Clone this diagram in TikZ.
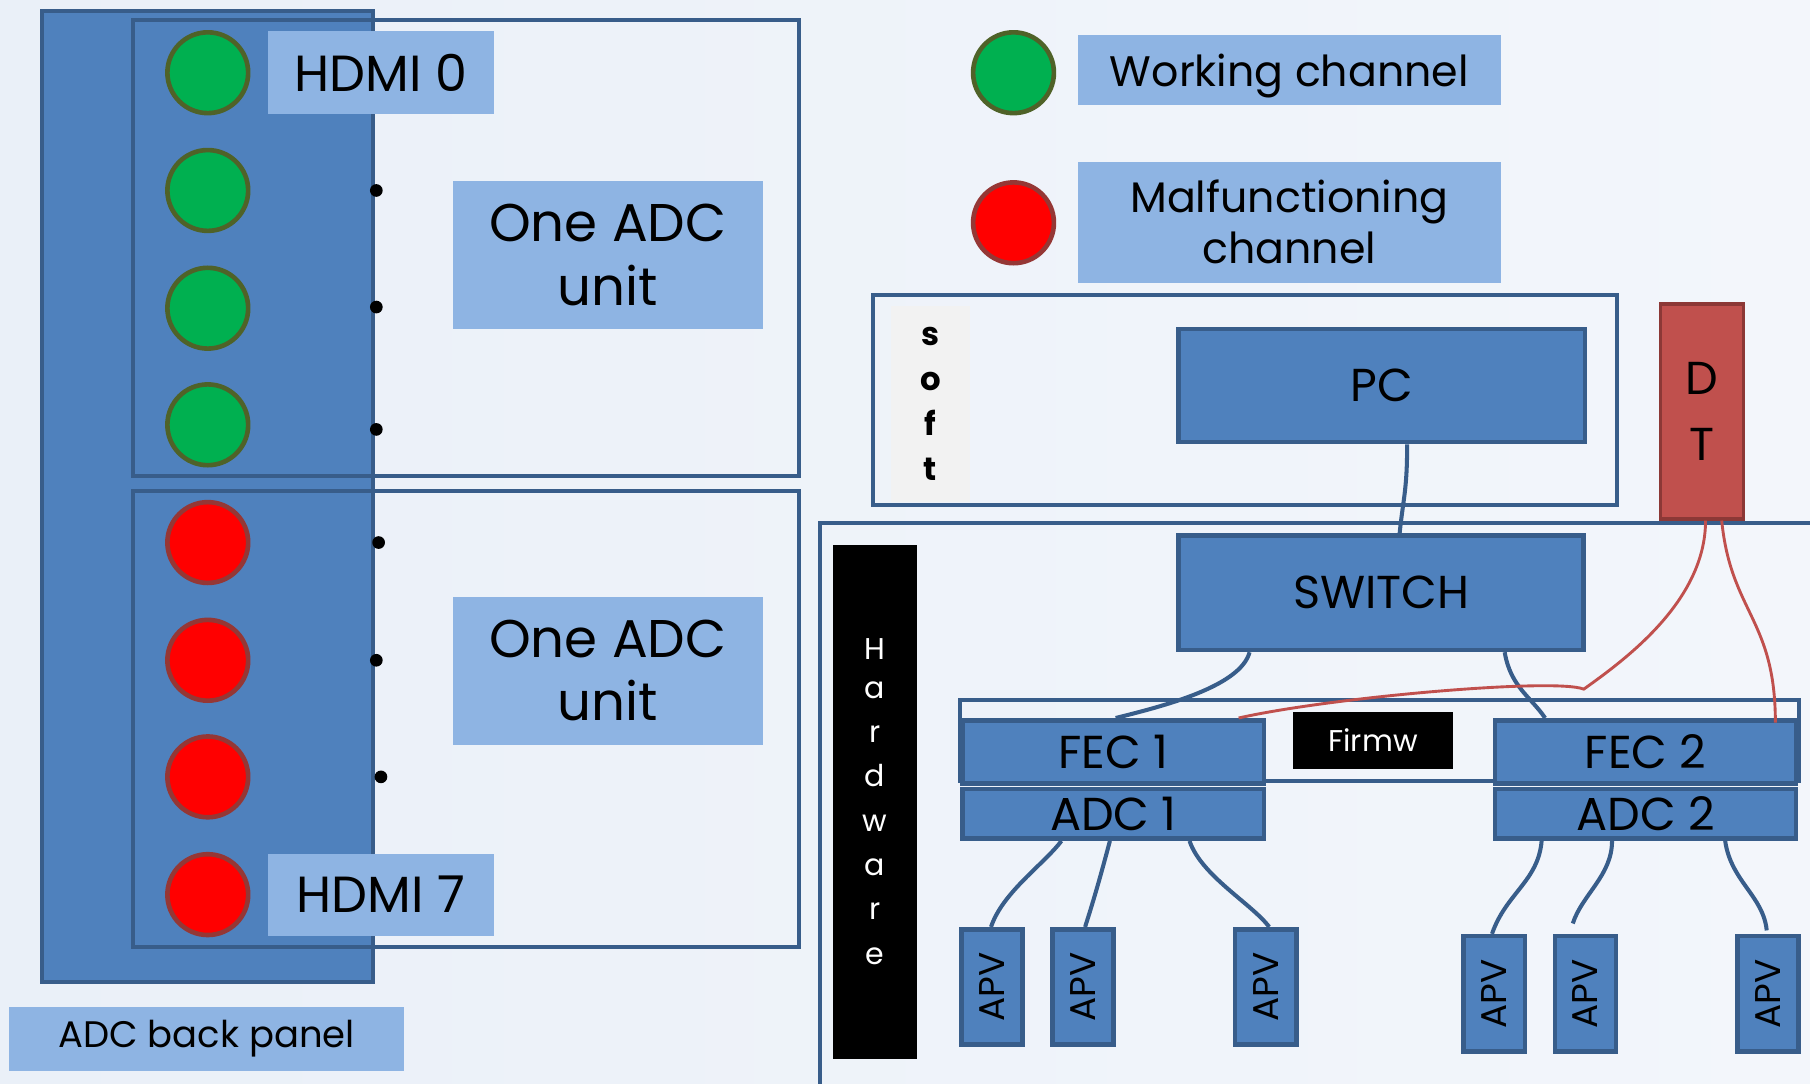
\documentclass[tikz,border=0pt]{standalone}
\usepackage{fontspec}
\setmainfont{Poppins}
\definecolor{bgcol}{HTML}{EAF0F8}
\definecolor{bgcolb}{HTML}{F3F6FB}
\definecolor{bluefill}{HTML}{4F81BD}
\definecolor{blueline}{HTML}{385D8A}
\definecolor{lightblue}{HTML}{8EB4E3}
\definecolor{okgreen}{HTML}{00B050}
\definecolor{okline}{HTML}{4F6228}
\definecolor{badred}{HTML}{FF0000}
\definecolor{badline}{HTML}{953735}
\definecolor{dtfill}{HTML}{C0504D}
\definecolor{dtline}{HTML}{8C3836}
\definecolor{softgray}{HTML}{F2F2F2}

\tikzset{
  panel/.style={draw=blueline, line width=3.5pt, fill=bluefill, inner sep=0pt},
  blk/.style={draw=blueline, line width=4pt, fill=bluefill, inner sep=0pt, font=\fontsize{40}{44}\selectfont},
  frame/.style={draw=blueline, line width=3.5pt, inner sep=0pt},
  lbl/.style={fill=lightblue, inner sep=0pt, align=center},
  okch/.style={circle, draw=okline, line width=4pt, fill=okgreen, minimum size=70pt},
  badch/.style={circle, draw=badline, line width=4pt, fill=badred, minimum size=70pt},
  dot/.style={circle, fill=black, inner sep=0pt, minimum size=11pt},
  apv/.style={blk, minimum width=53pt, minimum height=100pt, font=\fontsize{31}{32}\selectfont},
  wire/.style={draw=blueline, line width=3.5pt},
  dtwire/.style={draw=dtfill, line width=2.5pt}
}

\begin{document}
\begin{tikzpicture}[x=1pt, y=-1pt]
    \useasboundingbox (0,0) rectangle (1568,939);
    \shade[left color=bgcol, right color=bgcolb] (0,0) rectangle (1568,939);

    % back panel with the two ADC units
    \node[panel, minimum width=287pt, minimum height=841pt] (panel) at (180,430) {};
    \node[frame, minimum width=577pt, minimum height=395pt] (unitA) at (404,215) {};
    \node[frame, minimum width=577pt, minimum height=395pt] (unitB) at (404,623) {};

    \foreach \y [count=\i from 0] in {63,165,267,368} {
        \node[okch] (ch\i) at (180,\y) {};
    }
    \foreach \y [count=\i from 4] in {470,572,673,775} {
        \node[badch] (ch\i) at (180,\y) {};
    }

    \node[lbl, minimum width=196pt, minimum height=72pt, font=\fontsize{44}{48}\selectfont] (hdmiA) at (330,63) {HDMI 0};
    \node[lbl, minimum width=196pt, minimum height=71pt, font=\fontsize{44}{48}\selectfont] (hdmiB) at (330,775) {HDMI 7};

    \node[dot] (d1) at (326,165) {};
    \node[dot] (d2) at (326,266) {};
    \node[dot] (d3) at (326,372) {};
    \node[dot] (d4) at (328,470) {};
    \node[dot] (d5) at (326,572) {};
    \node[dot] (d6) at (330,673) {};

    \node[lbl, minimum width=269pt, minimum height=128pt, font=\fontsize{46}{55}\selectfont] (oneA) at (526.5,221) {One ADC\\unit};
    \node[lbl, minimum width=269pt, minimum height=128pt, font=\fontsize{46}{55}\selectfont] (oneB) at (526.5,581) {One ADC\\unit};
    \node[lbl, minimum width=342pt, minimum height=56pt, font=\fontsize{32}{36}\selectfont] (back) at (179,900) {ADC back panel};

    % legend
    \node[okch] (legok) at (878,63) {};
    \node[lbl, minimum width=366pt, minimum height=61pt, text depth=0pt, font=\fontsize{37}{42}\selectfont] (legA) at (1117,60.5) {Working channel};
    \node[badch] (legbad) at (878,193) {};
    \node[lbl, minimum width=366pt, minimum height=105pt, font=\fontsize{37}{44}\selectfont] (legB) at (1117,192.5) {Malfunctioning\\channel};

    % software
    \node[frame, minimum width=644pt, minimum height=182pt] (soft) at (1078.5,346.5) {};
    \node[fill=softgray, minimum width=68pt, minimum height=170pt, align=center,
          font=\fontsize{28}{39}\selectfont\bfseries] (softtxt) at (806,350) {s\\o\\f\\t};
    \node[blk, minimum width=352pt, minimum height=98pt] (pc) at (1197,334) {PC};
    \node[draw=dtline, line width=3pt, fill=dtfill, minimum width=72pt, minimum height=186pt,
          align=center, font=\fontsize{40}{57}\selectfont] (dt) at (1474.5,356.5) {D\\T};

    % hardware
    \draw[frame] (710,960) -- (710,453) -- (1600,453);
    \node[fill=black, text=white, minimum width=72pt, minimum height=445pt, align=center,
          font=\fontsize{26}{38.4}\selectfont] (hw) at (758,694.5) {\raisebox{-5pt}{H}\\a\\r\\d\\w\\a\\r\\e};
    \node[blk, minimum width=351pt, minimum height=99pt] (sw) at (1196.5,513.5) {SWITCH};

    \node[frame, minimum width=727pt, minimum height=70pt] (firm) at (1195,641.5) {};
    \node[blk, minimum width=261pt, minimum height=55pt] (fecA) at (964.5,651.5) {FEC 1};
    \node[blk, minimum width=261pt, minimum height=43pt] (adcA) at (964.5,705) {ADC 1};
    \node[blk, minimum width=261pt, minimum height=55pt] (fecB) at (1425.5,651.5) {FEC 2};
    \node[blk, minimum width=261pt, minimum height=43pt] (adcB) at (1425.5,705) {ADC 2};
    \node[fill=black, text=white, minimum width=139pt, minimum height=49pt,
          font=\fontsize{26}{28}\selectfont] (firmw) at (1189.5,641.5) {Firmw};

    \node[apv] (apv1) at (859.5,855) {\rotatebox{90}{APV}};
    \node[apv] (apv2) at (938,855) {\rotatebox{90}{APV}};
    \node[apv] (apv3) at (1096.5,855) {\rotatebox{90}{APV}};
    \node[apv] (apv4) at (1294.5,861) {\rotatebox{90}{APV}};
    \node[apv] (apv5) at (1373.5,861) {\rotatebox{90}{APV}};
    \node[apv] (apv6) at (1531.5,861) {\rotatebox{90}{APV}};

    % cables
    \draw[wire] ([xshift=22pt]pc.south) .. controls +(0,40) and +(3,-30) .. ([xshift=16pt]sw.north);
    \draw[wire] ([xshift=-114pt]sw.south) .. controls +(-8,30) and +(40,-10) .. ([xshift=2pt]fecA.north);
    \draw[wire] ([xshift=107pt]sw.south) .. controls +(5,30) and +(-12,-18) .. ([xshift=-87pt]fecB.north);

    \draw[wire] ([xshift=-45pt]adcA.south) .. controls +(-15,20) and +(10,-30) .. ([xshift=-1pt]apv1.north);
    \draw[wire] ([xshift=-3pt]adcA.south) .. controls +(-8,30) and +(8,-25) .. ([xshift=2pt]apv2.north);
    \draw[wire] ([xshift=66pt]adcA.south) .. controls +(10,30) and +(-15,-20) .. ([xshift=3pt]apv3.north);

    \draw[wire] ([xshift=-90pt]adcB.south) .. controls +(-3,35) and +(12,-35) .. ([xshift=-2pt]apv4.north);
    \draw[wire] ([xshift=-29pt]adcB.south) .. controls +(0,30) and +(8,-25) .. ([xshift=-11pt,yshift=9pt]apv5.north);
    \draw[wire] ([xshift=69pt]adcB.south) .. controls +(5,35) and +(-3,-30) .. ([xshift=-1pt,yshift=3pt]apv6.north);

    \coordinate (bend) at (1372,597);
    \draw[dtwire] ([xshift=3pt]dt.south) .. controls +(0,70) and +(35,-25) .. (bend)
                  .. controls +(-25,-10) and +(80,-18) .. ([xshift=-24pt]fecA.north east);
    \draw[dtwire] ([xshift=17pt]dt.south) .. controls +(8,80) and +(0,-90) .. ([xshift=-20pt,yshift=-4pt]fecB.north east);
\end{tikzpicture}
\end{document}
